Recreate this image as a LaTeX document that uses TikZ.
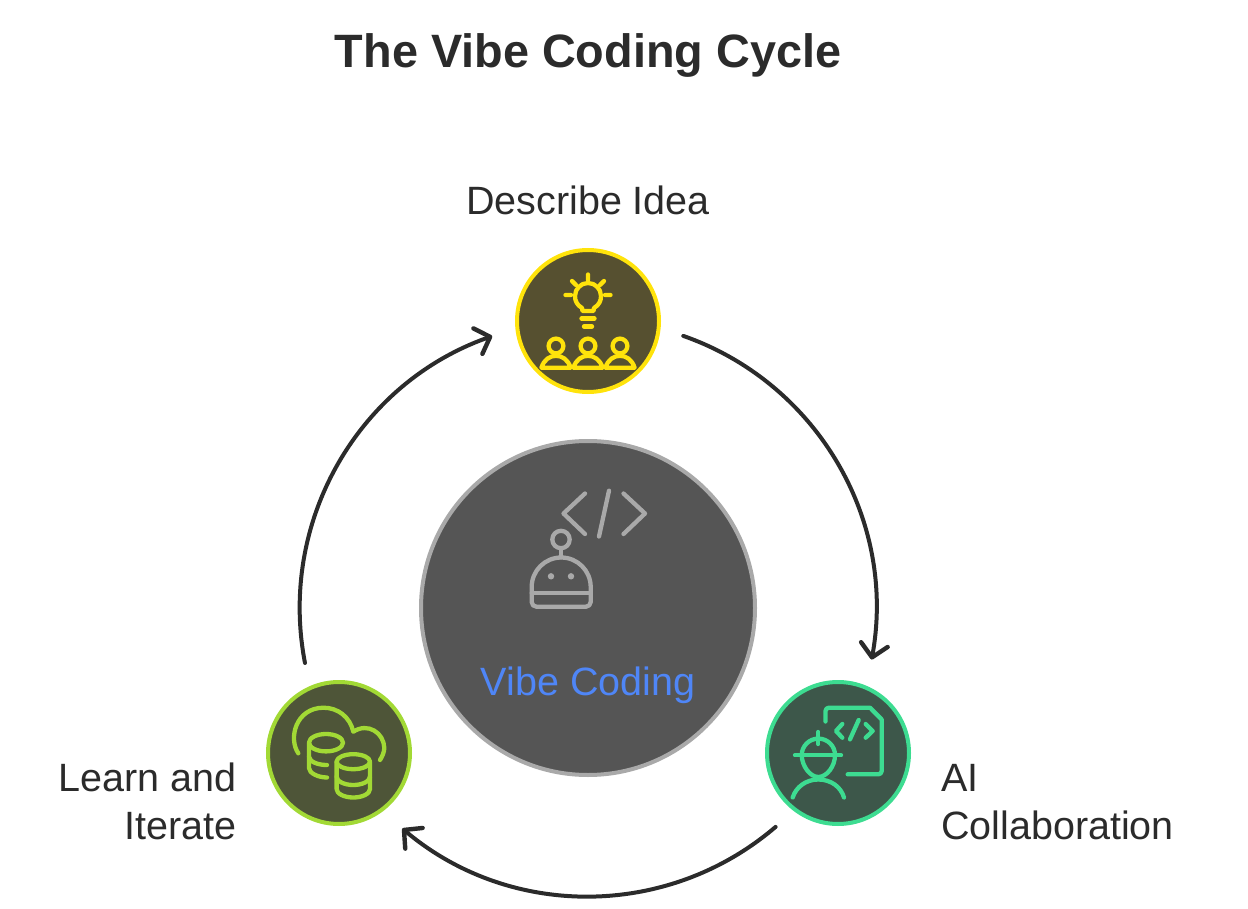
\documentclass[tikz,border=0pt]{standalone}
\usepackage{fontspec}
\setmainfont{Liberation Sans}
\usetikzlibrary{arrows.meta,calc}
\definecolor{ink}{HTML}{2B2B2B}
\definecolor{yel}{HTML}{FFE30B}
\definecolor{yelf}{HTML}{565030}
\definecolor{gry}{HTML}{A9A9A9}
\definecolor{gryf}{HTML}{555555}
\definecolor{grn}{HTML}{3DDC91}
\definecolor{grnf}{HTML}{3D574A}
\definecolor{lim}{HTML}{A2D935}
\definecolor{limf}{HTML}{4E5538}
\definecolor{blu}{HTML}{4F86F7}
\tikzset{
  disc/.style={circle,draw=#1,fill=#1f,line width=4pt,minimum size=142pt,inner sep=0pt},
  hubdisc/.style={circle,draw=gry,fill=gryf,line width=4pt,minimum size=334pt,inner sep=0pt},
  flow/.style={draw=ink,line width=4pt,line cap=round,-{Straight Barb[length=13pt,width=27pt,line width=4.4pt,round]}},
  lab/.style={text=ink,font=\fontsize{39.5}{48}\selectfont,inner sep=0pt},
  icon/.style={draw=#1,line width=4.3pt,line cap=round,line join=round},
}
\begin{document}
\begin{tikzpicture}[x=1pt,y=1pt,yscale=-1]
\useasboundingbox (0,0) rectangle (1248,909);
\node[text=ink,font=\fontsize{46.8}{54}\selectfont\bfseries,anchor=base,inner sep=0pt] (title) at (588,68) {The Vibe Coding Cycle};
\node[hubdisc] (hub) at (588,608) {};
\node[disc=yel] (top) at (588,321) {};
\node[disc=grn] (right) at (838,753) {};
\node[disc=lim] (left) at (339,753) {};
\node[lab,anchor=base] (ltop) at (588,215) {Describe Idea};
\node[lab,anchor=base,text=blu] (lhub) at (588,695) {Vibe Coding};
\node[lab,anchor=base west] (lr1) at (941,791) {AI};
\node[lab,anchor=base west] (lr2) at (941,839) {Collaboration};
\node[lab,anchor=base east] (ll1) at (236.5,791) {Learn and};
\node[lab,anchor=base east] (ll2) at (236.5,839) {Iterate};
\coordinate (a1) at ($(hub.center)+(-70.7:288.3)$);
\coordinate (a2) at ($(hub.center)+(49.4:288.3)$);
\coordinate (a3) at ($(hub.center)+(169:288.3)$);
\draw[flow] (a1) arc[start angle=-70.7,end angle=10.3,radius=288.3];
\draw[flow] (a2) arc[start angle=49.4,end angle=130.1,radius=288.3];
\draw[flow] (a3) arc[start angle=169,end angle=250.6,radius=288.3];
% bulb and people
\begin{scope}[icon=yel]
\draw (588,274.5)--(588,280) (572,281)--(576,285) (604,281)--(600,285) (565.5,295)--(571,295) (605,295)--(610.5,295);
\draw (582.5,311)--(582,308) .. controls (577,305) and (575,301) .. (575,296) arc[start angle=180,end angle=360,radius=13] .. controls (601,301) and (599,305) .. (594,308) -- (593.5,311) -- cycle;
\draw (581.5,318.5)--(594.5,318.5) (584,326.5)--(592,326.5);
\foreach \c in {556,588,620}{
  \draw (\c,346) circle[radius=7.4];
  \draw (\c-14.6,367.7) .. controls (\c-12,359.5) and (\c-6,355.8) .. (\c,355.8) .. controls (\c+6,355.8) and (\c+12,359.5) .. (\c+14.6,367.7) -- cycle;
}
\end{scope}
% robot and code
\begin{scope}[icon=gry]
\draw (585,493.5)--(563.5,513.5)--(585,534);
\draw (609,490.7)--(599,536.5);
\draw (623.5,493.5)--(645,513.5)--(623.5,534);
\draw (561,539.5) circle[radius=8.7];
\draw (561,548.2)--(561,557.3);
\draw (531.7,592.7)--(531.7,587) arc[start angle=180,end angle=360,radius=29.5] -- (590.7,592.7) -- (590.7,602) arc[start angle=0,end angle=90,radius=4.7] -- (536.4,606.7) arc[start angle=90,end angle=180,radius=4.7] -- cycle;
\draw (531.7,592.7)--(590.7,592.7);
\fill[gry,draw=none] (551,576.3) circle[radius=3.2] (571,576.3) circle[radius=3.2];
\end{scope}
% engineer
\begin{scope}[icon=grn]
\draw (825.5,721.5)--(825.5,711) arc[start angle=180,end angle=270,radius=3.3] -- (870,707.7)--(881.7,719.5)--(881.7,771) arc[start angle=0,end angle=90,radius=3.3] -- (847.7,774.3);
\draw (842.3,724)--(836,731)--(842.3,737.7);
\draw (858.7,720)--(850,739.3);
\draw (865.7,724)--(872.7,731)--(865.7,737.7);
\draw (795,755.3)--(841,755.3);
\draw (818.3,732)--(818.3,744);
\draw (801.7,755.3) arc[start angle=180,end angle=360,radius=16.7];
\draw (801.7,755.3) .. controls (802,766) and (810,777) .. (818.3,777) .. controls (827,777) and (835,766) .. (835,755.3);
\draw (792.7,797.5) .. controls (796,787) and (806,779.5) .. (818.3,779.5) .. controls (831,779.5) and (841,787) .. (844,797.5);
\end{scope}
% cloud and databases
\begin{scope}[icon=lim]
\draw (298.3,753.3) .. controls (288,738) and (296,708) .. (323.3,707.7) .. controls (338,707.7) and (350,717) .. (353.3,731.7) .. controls (368,722) and (384,733) .. (384.3,748) .. controls (384.3,752) and (382,757) .. (380,760);
\draw (326,742.7) ellipse[x radius=17,y radius=8.7];
\draw (309,742.7)--(309,768) .. controls (309,773) and (318,777.5) .. (327,777.5);
\draw (309,757) .. controls (310,762) and (318,765) .. (327,765);
\draw (353.3,761.7) ellipse[x radius=16.7,y radius=7.5];
\draw (336.6,761.7)--(336.6,789) arc[start angle=180,end angle=0,x radius=16.7,y radius=8.5] -- (370,761.7);
\draw (336.6,776.5) arc[start angle=180,end angle=0,x radius=16.7,y radius=8.5];
\end{scope}
\end{tikzpicture}
\end{document}
